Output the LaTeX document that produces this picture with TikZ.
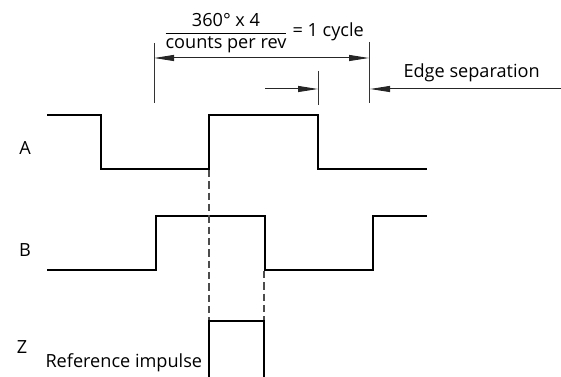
\documentclass[tikz,border=0pt]{standalone}
\usepackage{fontspec}
\setmainfont{Open Sans}
\usetikzlibrary{arrows.meta}

\tikzset{every picture/.style={line width=0.75pt}}
\tikzset{
  wave/.style={line width=1.5pt, line join=miter},
  tick/.style={line width=0.75pt, color=black!80},
  guide/.style={line width=0.9pt, color=black!70, dash pattern=on 5.5pt off 3pt},
  dimarrow/.style={line width=0.75pt, color=black!85, -{Triangle[length=15pt,width=4.5pt]}},
  dimboth/.style={line width=0.75pt, color=black!85, {Triangle[length=15pt,width=4.5pt]}-{Triangle[length=15pt,width=4.5pt]}},
  lbl/.style={inner sep=0pt, anchor=base, font=\fontsize{13.6}{16}\selectfont},
}

\begin{document}
\begin{tikzpicture}[x=0.75pt,y=0.75pt,yscale=-1,xscale=1]
			\useasboundingbox (0,0) rectangle (561,377);

			%Signal A
			\draw [wave] (47,115) -- (101,115) -- (101,169) -- (209,169) -- (209,115) -- (318,115) -- (318,169) -- (427,169) ;
			%Signal B
			\draw [wave] (47,270) -- (156,270) -- (156,216) -- (265,216) -- (265,270) -- (373,270) -- (373,216) -- (427,216) ;
			%Signal Z
			\draw [wave] (209,377) -- (209,321) -- (264,321) -- (264,377) ;

			%Edges used by the guides
			\coordinate (aRise) at (209,170) ;
			\coordinate (zLeft) at (209,320) ;
			\coordinate (bFall) at (264,271) ;
			\coordinate (zRight) at (264,320) ;
			\draw [guide] (aRise) -- (zLeft) ;
			\draw [guide] (bFall) -- (zRight) ;

			%Dimension ticks
			\coordinate (cycTopL) at (154,43) ;
			\coordinate (cycBotL) at (154,103) ;
			\coordinate (cycTopR) at (369,42) ;
			\coordinate (cycBotR) at (369,103) ;
			\coordinate (sepTop) at (318,71) ;
			\coordinate (sepBot) at (318,105) ;
			\draw [tick] (cycTopL) -- (cycBotL) ;
			\draw [tick] (cycTopR) -- (cycBotR) ;
			\draw [tick] (sepTop) -- (sepBot) ;

			%Dimension arrows
			\coordinate (cycL) at (154,58) ;
			\coordinate (cycR) at (369,58) ;
			\coordinate (sepFrom) at (265,89) ;
			\coordinate (sepTo) at (318,89) ;
			\coordinate (edgeFrom) at (561,89) ;
			\coordinate (edgeTo) at (370,89) ;
			\draw [dimboth] (cycL) -- (cycR) ;
			\draw [dimarrow] (sepFrom) -- (sepTo) ;
			\draw [dimarrow] (edgeFrom) -- (edgeTo) ;

			%Labels
			\node [lbl] (labA) at (25,155) {A};
			\node [lbl] (labB) at (25,257) {B};
			\node [lbl] (labZ) at (22,354) {Z};
			\node [lbl, anchor=base west] (labRef) at (45,368) {Reference impulse};
			\node [lbl] (labCount) at (226,27) {\begin{tabular}[t]{@{}c@{}}360° x 4\\\hline counts per rev\end{tabular}};
			\node [lbl, anchor=base west] (labCycle) at (292,37) {= 1 cycle};
			\node [lbl, anchor=base west] (labEdge) at (403,78) {Edge separation};
		\end{tikzpicture}
\end{document}
